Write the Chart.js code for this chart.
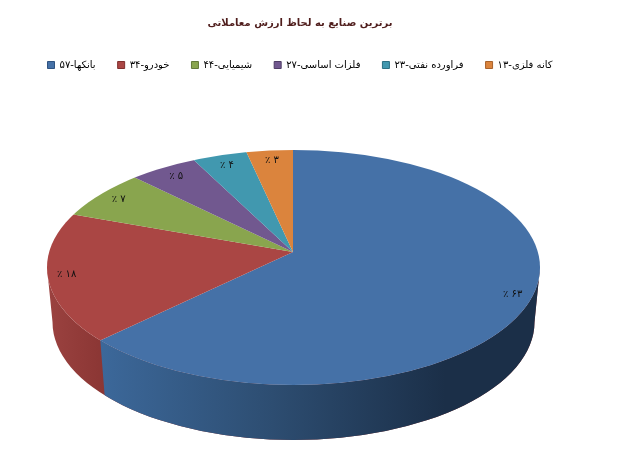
<!DOCTYPE html>
<html>
<head>
<meta charset="utf-8">
<style>
body { margin: 0; background: #fff; }
canvas { display: block; }
</style>
<script src="https://cdn.jsdelivr.net/npm/chart.js@4/dist/chart.umd.min.js"></script>
</head>
<body>
<canvas id="myChart" width="618" height="458"></canvas>
<script>
'use strict'

let chartTitle = 'برترین صنایع به لحاظ ارزش معاملاتی';
let categories = ['بانکها-۵۷', 'خودرو-۳۴', 'شیمیایی-۴۴', 'فلزات اساسی-۲۷', 'فراورده نفتی-۲۳', 'کانه فلزی-۱۳'];
let values = [62.6, 18, 7, 5, 4, 3.4];
let percentLabels = ['۶۳ ٪', '۱۸ ٪', '۷ ٪', '۵ ٪', '۴ ٪', '۳ ٪'];
let colors = ['#4571a7', '#aa4644', '#89a54e', '#71588f', '#4198af', '#db843d'];
let legendEdges = ['#2f5381', '#7f2f2d', '#64793a', '#4f3d66', '#2c7083', '#a8622b'];

// the picture's 3d tilt: wedges meet at apex, outline is the top ellipse
let apex = { x: 293, y: 252 };
let tiltX = 330;
let tiltY = 330 * 0.465;
let topEll = { x: 293.5, y: 267.5, rx: 246.5, ry: 117.5 };
let botEll = { x: 293.5, y: 322, rx: 241, ry: 118 };

// where a wedge edge at this angle meets the top ellipse
function rayToEllipse(angle) {
    let dx = Math.cos(angle) * tiltX;
    let dy = Math.sin(angle) * tiltY;
    let ox = apex.x - topEll.x;
    let oy = apex.y - topEll.y;
    let a = dx * dx / (topEll.rx * topEll.rx) + dy * dy / (topEll.ry * topEll.ry);
    let b = 2 * (ox * dx / (topEll.rx * topEll.rx) + oy * dy / (topEll.ry * topEll.ry));
    let c = ox * ox / (topEll.rx * topEll.rx) + oy * oy / (topEll.ry * topEll.ry) - 1;
    let t = (-b + Math.sqrt(b * b - 4 * a * c)) / (2 * a);
    return { x: apex.x + t * dx, y: apex.y + t * dy, t: t, dx: dx, dy: dy };
}

function wallPath(ctx) {
    ctx.beginPath();
    ctx.ellipse(topEll.x, topEll.y, topEll.rx, topEll.ry, 0, 0, Math.PI);
    ctx.lineTo(botEll.x - botEll.rx, botEll.y);
    ctx.ellipse(botEll.x, botEll.y, botEll.rx, botEll.ry, 0, Math.PI, 0, true);
    ctx.closePath();
}

function drawWall(chart) {
    let ctx = chart.ctx;
    let first = chart.getDatasetMeta(0).data[0];
    let p = rayToEllipse(first.endAngle);
    let qx = botEll.x + (p.x - topEll.x) * botEll.rx / topEll.rx;
    let qy = botEll.y + (p.y - topEll.y) * botEll.ry / topEll.ry;

    let red = ctx.createLinearGradient(47, 0, 103, 0);
    red.addColorStop(0, '#9b4240');
    red.addColorStop(1, '#8b3634');
    wallPath(ctx);
    ctx.fillStyle = red;
    ctx.fill();

    let blue = ctx.createLinearGradient(p.x, 0, 445, 0);
    blue.addColorStop(0, '#3c689a');
    blue.addColorStop(0.5, '#2d4d71');
    blue.addColorStop(1, '#1b2f48');
    ctx.save();
    ctx.beginPath();
    ctx.moveTo(p.x, p.y);
    ctx.lineTo(qx, qy);
    ctx.lineTo(qx + (qx - p.x), 458);
    ctx.lineTo(618, 458);
    ctx.lineTo(618, 0);
    ctx.lineTo(p.x, 0);
    ctx.closePath();
    ctx.clip();
    wallPath(ctx);
    ctx.fillStyle = blue;
    ctx.fill();
    ctx.restore();
}

let tiltPlugin = {
    id: 'tilt',
    beforeDatasetsDraw(chart) {
        let ctx = chart.ctx;
        let arc = chart.getDatasetMeta(0).data[0];
        drawWall(chart);
        ctx.save();
        ctx.beginPath();
        ctx.ellipse(topEll.x, topEll.y, topEll.rx, topEll.ry, 0, 0, Math.PI * 2);
        ctx.clip();
        ctx.translate(apex.x, apex.y);
        ctx.scale(tiltX / arc.outerRadius, tiltY / arc.outerRadius);
        ctx.translate(-arc.x, -arc.y);
    },
    afterDatasetsDraw(chart) {
        let ctx = chart.ctx;
        ctx.restore();
        ctx.save();
        ctx.font = '10px "DejaVu Sans"';
        ctx.fillStyle = '#111';
        ctx.textAlign = 'center';
        ctx.textBaseline = 'middle';
        ctx.direction = 'rtl';
        chart.getDatasetMeta(0).data.forEach(function (arc, index) {
            let r = rayToEllipse((arc.startAngle + arc.endAngle) / 2);
            // labels sit just inside the rim
            let length = r.t * Math.hypot(r.dx, r.dy);
            let inset = Math.min(length * 0.1, 19);
            let k = r.t * (1 - inset / length);
            ctx.fillText(percentLabels[index], apex.x + k * r.dx, apex.y + k * r.dy);
        });
        ctx.restore();
    }
};

let ctx = document.getElementById('myChart').getContext('2d');
new Chart(ctx, {
    type: 'pie',
    data: {
        labels: categories,
        datasets: [{
            data: values,
            backgroundColor: colors,
            borderWidth: 0,
            clip: false
        }]
    },
    options: {
        responsive: false,
        animation: false,
        layout: { padding: { right: 18 } },
        plugins: {
            title: {
                display: true,
                text: chartTitle,
                color: '#4f1d1c',
                font: { family: '"DejaVu Sans"', size: 10, weight: 'bold' },
                padding: { top: 17, bottom: 9 }
            },
            legend: {
                position: 'top',
                labels: {
                    boxWidth: 7,
                    boxHeight: 7,
                    padding: 22,
                    color: '#000',
                    font: { family: '"DejaVu Sans"', size: 10 },
                    generateLabels(chart) {
                        let items = Chart.overrides.pie.plugins.legend.labels.generateLabels(chart);
                        items.forEach(function (item, index) {
                            item.lineWidth = 1;
                            item.strokeStyle = legendEdges[index];
                        });
                        return items;
                    }
                }
            },
            tooltip: { enabled: false }
        }
    },
    plugins: [tiltPlugin]
});
</script>
</body>
</html>
